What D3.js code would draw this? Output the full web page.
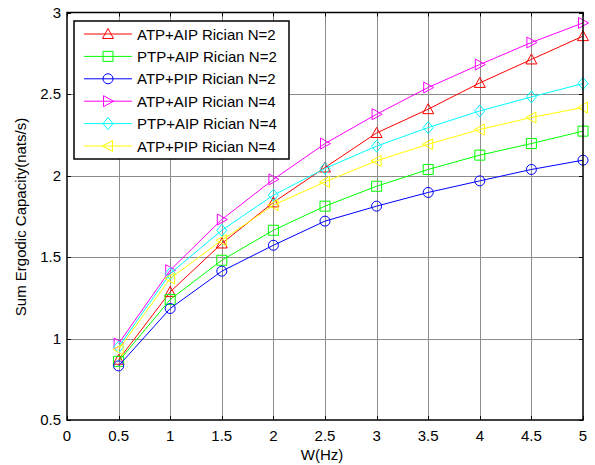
<!DOCTYPE html>
<html>
<head>
<meta charset="utf-8">
<script src="https://cdn.jsdelivr.net/npm/d3@7"></script>
<style>
  body { margin: 0; background: #fff; }
  text { font-family: "Liberation Sans", Arial, sans-serif; fill: #000; }
</style>
</head>
<body>
<svg id="chart" width="595" height="465"></svg>
<script>
// data
const wValues = [0.5, 1, 1.5, 2, 2.5, 3, 3.5, 4, 4.5, 5];
const atpAipN2 = [0.87, 1.286, 1.583, 1.835, 2.049, 2.261, 2.407, 2.568, 2.712, 2.855];
const ptpAipN2 = [0.86, 1.239, 1.48, 1.664, 1.812, 1.934, 2.037, 2.125, 2.196, 2.272];
const atpPipN2 = [0.832, 1.184, 1.413, 1.572, 1.72, 1.812, 1.896, 1.967, 2.037, 2.094];
const atpAipN4 = [0.969, 1.419, 1.73, 1.976, 2.196, 2.376, 2.54, 2.681, 2.816, 2.936];
const ptpAipN4 = [0.948, 1.399, 1.664, 1.879, 2.043, 2.18, 2.294, 2.396, 2.482, 2.564];
const atpPipN4 = [0.933, 1.368, 1.603, 1.818, 1.961, 2.09, 2.192, 2.282, 2.356, 2.417];
const seriesNames = [
  "ATP+AIP Rician N=2", "PTP+AIP Rician N=2", "ATP+PIP Rician N=2",
  "ATP+AIP Rician N=4", "PTP+AIP Rician N=4", "ATP+PIP Rician N=4"
];
const seriesColors = ["#ff0000", "#00ff00", "#0000ff", "#ff00ff", "#00ffff", "#ffff00"];
const seriesMarkers = ["triUp", "square", "circle", "triRight", "diamond", "triLeft"];
const xTicks = [0, 0.5, 1, 1.5, 2, 2.5, 3, 3.5, 4, 4.5, 5];
const yTicks = [0.5, 1, 1.5, 2, 2.5, 3];

const seriesValues = [atpAipN2, ptpAipN2, atpPipN2, atpAipN4, ptpAipN4, atpPipN4];

const svg = d3.select("#chart");
const plotLeft = 67, plotRight = 583, plotTop = 12.5, plotBottom = 420;

const x = d3.scaleLinear().domain([0, 5]).range([plotLeft, plotRight]);
const y = d3.scaleLinear().domain([0.5, 3]).range([plotBottom, plotTop]);

// marker path, centred on 0,0
function markerPath(kind) {
  const p = d3.path();
  if (kind === "triUp") {
    p.moveTo(0, -5.5); p.lineTo(5.5, 4.5); p.lineTo(-5.5, 4.5); p.closePath();
  } else if (kind === "triRight") {
    p.moveTo(5.5, 0); p.lineTo(-4.5, 5.5); p.lineTo(-4.5, -5.5); p.closePath();
  } else if (kind === "triLeft") {
    p.moveTo(-5.5, 0); p.lineTo(4.5, 5.5); p.lineTo(4.5, -5.5); p.closePath();
  } else if (kind === "square") {
    p.rect(-5, -5, 10, 10);
  } else if (kind === "diamond") {
    p.moveTo(0, -6); p.lineTo(5, 0); p.lineTo(0, 6); p.lineTo(-5, 0); p.closePath();
  } else {
    p.arc(0, 0, 5, 0, 2 * Math.PI);
  }
  return p.toString();
}

// grid
const grid = svg.append("g").attr("stroke", "#8c8c8c").attr("stroke-width", 1);
grid.selectAll("line.vx")
  .data(xTicks.slice(1, -1))
  .enter().append("line")
  .attr("x1", d => Math.round(x(d)) + 0.5).attr("x2", d => Math.round(x(d)) + 0.5)
  .attr("y1", plotTop).attr("y2", plotBottom);
grid.selectAll("line.hy")
  .data(yTicks.slice(1, -1))
  .enter().append("line")
  .attr("y1", d => Math.round(y(d)) + 0.5).attr("y2", d => Math.round(y(d)) + 0.5)
  .attr("x1", plotLeft).attr("x2", plotRight);

// inward ticks on all four sides
const ticks = svg.append("g").attr("stroke", "#000").attr("stroke-width", 1);
xTicks.forEach(t => {
  const xx = Math.round(x(t)) + 0.5;
  ticks.append("line").attr("x1", xx).attr("x2", xx).attr("y1", plotBottom).attr("y2", plotBottom - 4);
  ticks.append("line").attr("x1", xx).attr("x2", xx).attr("y1", plotTop).attr("y2", plotTop + 4);
});
yTicks.forEach(t => {
  const yy = Math.round(y(t)) + 0.5;
  ticks.append("line").attr("y1", yy).attr("y2", yy).attr("x1", plotLeft).attr("x2", plotLeft + 4);
  ticks.append("line").attr("y1", yy).attr("y2", yy).attr("x1", plotRight).attr("x2", plotRight - 4);
});

// series
const line = d3.line().x((d, i) => x(wValues[i])).y(d => y(d));
seriesValues.forEach((vals, s) => {
  const g = svg.append("g");
  g.append("path")
    .datum(vals)
    .attr("d", line)
    .attr("fill", "none")
    .attr("stroke", seriesColors[s])
    .attr("stroke-width", 1);
  g.selectAll("path.mk")
    .data(vals)
    .enter().append("path")
    .attr("class", "mk")
    .attr("d", markerPath(seriesMarkers[s]))
    .attr("transform", (d, i) => `translate(${x(wValues[i])},${y(d)})`)
    .attr("fill", "none")
    .attr("stroke", seriesColors[s])
    .attr("stroke-width", 1);
});

// axes box
svg.append("rect")
  .attr("x", plotLeft).attr("y", plotTop)
  .attr("width", plotRight - plotLeft).attr("height", plotBottom - plotTop)
  .attr("fill", "none").attr("stroke", "#000").attr("stroke-width", 1.5);

// tick labels
svg.append("g").selectAll("text")
  .data(xTicks)
  .enter().append("text")
  .attr("x", d => x(d)).attr("y", 441)
  .attr("text-anchor", "middle")
  .style("font-size", "15px")
  .text(d => d);
svg.append("g").selectAll("text")
  .data(yTicks)
  .enter().append("text")
  .attr("x", 61).attr("y", d => y(d) + 5)
  .attr("text-anchor", "end")
  .style("font-size", "15px")
  .text(d => d);

// axis labels
svg.append("text")
  .attr("x", 322).attr("y", 460)
  .attr("text-anchor", "middle")
  .style("font-size", "15px")
  .text("W(Hz)");
svg.append("text")
  .attr("transform", "translate(26,217) rotate(-90)")
  .attr("text-anchor", "middle")
  .style("font-size", "15px")
  .text("Sum Ergodic Capacity(nats/s)");

// legend
const legend = svg.append("g").attr("id", "legend");
legend.append("rect")
  .attr("x", 74).attr("y", 21)
  .attr("width", 215).attr("height", 138)
  .attr("fill", "#fff").attr("stroke", "#000").attr("stroke-width", 1.5);
const rowY = d3.scaleLinear().domain([0, 5]).range([34, 146]);
seriesNames.forEach((name, s) => {
  const ly = rowY(s);
  legend.append("line")
    .attr("x1", 84).attr("x2", 132).attr("y1", ly).attr("y2", ly)
    .attr("stroke", seriesColors[s]).attr("stroke-width", 1);
  legend.append("path")
    .attr("d", markerPath(seriesMarkers[s]))
    .attr("transform", `translate(108,${ly})`)
    .attr("fill", "none").attr("stroke", seriesColors[s]).attr("stroke-width", 1);
  legend.append("text")
    .attr("x", 137).attr("y", ly + 5.5)
    .style("font-size", "15px")
    .text(name);
});
</script>
</body>
</html>
